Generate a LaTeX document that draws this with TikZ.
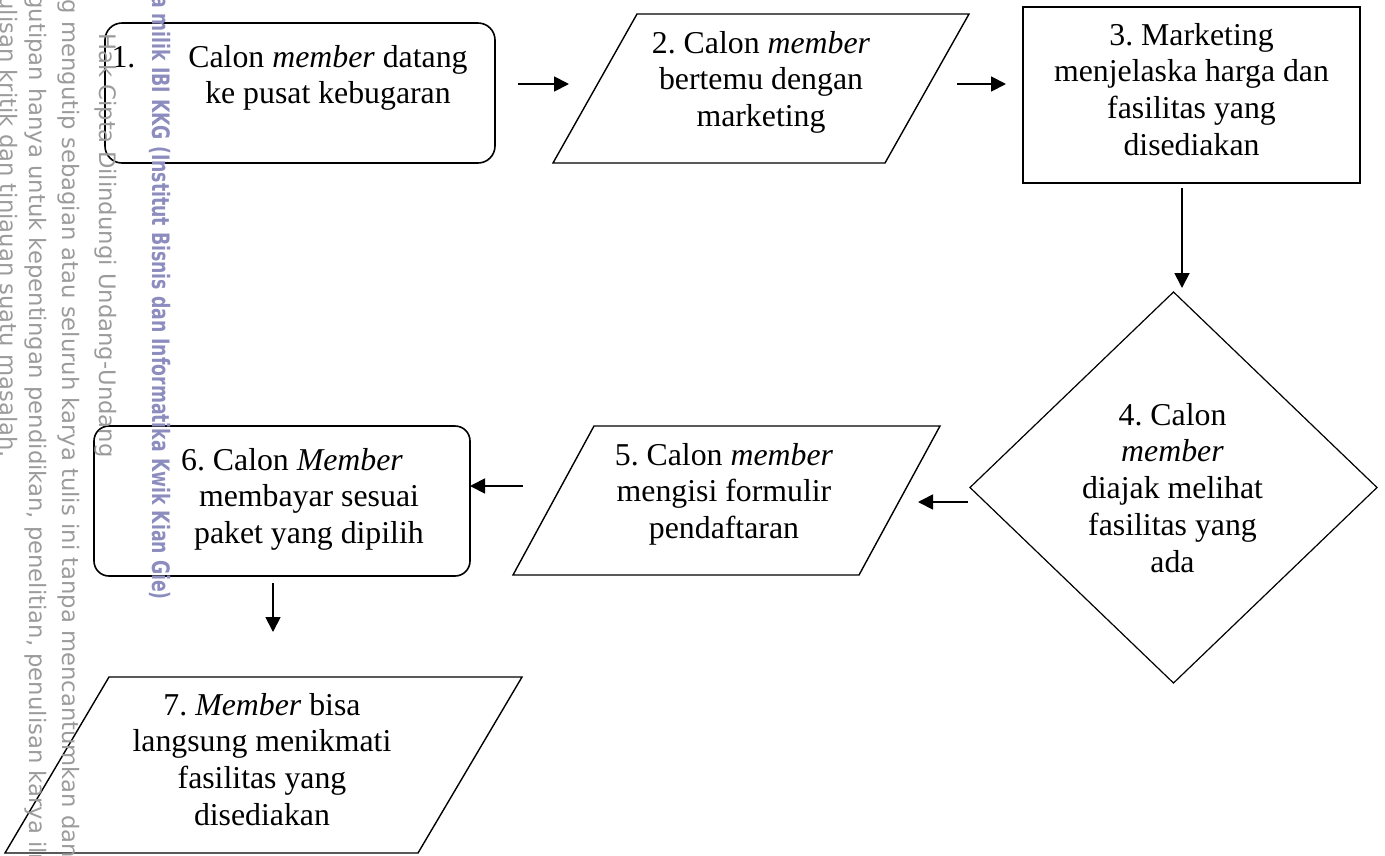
\documentclass[tikz,border=0pt]{standalone}
\usepackage{fontspec}
\setmainfont{Liberation Serif}
\newfontfamily\wmfont{DejaVu Sans}
\usetikzlibrary{shapes.geometric,arrows.meta}
\definecolor{wmgray}{RGB}{155,155,155}
\definecolor{wmblue}{RGB}{140,140,190}
\frenchspacing
\newcommand{\ptext}[3]{\makebox[0pt][l]{\hspace*{#1}\makebox[0pt]{\raisebox{#2}[0pt][0pt]{\begin{tabular}[t]{@{}c@{}}#3\end{tabular}}}}}
\begin{document}
\begin{tikzpicture}[x=1pt,y=-1pt,
  font=\fontsize{31.8}{36.8}\selectfont\frenchspacing,
  roundbox/.style={draw, rounded corners=17pt, line width=1.6pt, inner sep=0pt, outer sep=0pt},
  plainbox/.style={draw, line width=1.8pt, inner sep=0pt, outer sep=0pt},
  parabox/.style={inner sep=0pt, outer sep=0pt},
  paraline/.style={line width=1.4pt, line join=miter},
  decision/.style={draw, diamond, line width=1.2pt, inner sep=0pt, outer sep=0pt},
  arr/.style={-{Triangle[length=15pt,width=15pt]}, line width=1.8pt},
  wm/.style={rotate=-90, inner sep=0pt, text=wmgray, font=\wmfont\fontsize{22.7}{27}\selectfont},
  wmb/.style={rotate=-90, inner sep=0pt, text=wmblue, font=\wmfont\bfseries\fontsize{24}{28}\selectfont}]
\useasboundingbox (0,0) rectangle (1385,855);

\node[roundbox, minimum width=390, minimum height=140] (n1) at (300,93)
  {\ptext{28pt}{26pt}{\llap{1.\hspace{53pt}}Calon \textit{member} datang\\ ke pusat kebugaran}};
\node[parabox, minimum width=416, minimum height=149] (n2) at (761,88.5)
  {\ptext{0pt}{35.5pt}{2. Calon \textit{member}\\ bertemu dengan\\ marketing}};
\draw[paraline] ([xshift=84pt]n2.north west) -- (n2.north east) -- ([xshift=-84pt]n2.south east) -- (n2.south west) -- cycle;
\node[plainbox, minimum width=337, minimum height=176] (n3) at (1191.5,95)
  {\ptext{0pt}{50pt}{3. Marketing\\ menjelaska harga dan\\ fasilitas yang\\ disediakan}};
\node[decision, minimum width=407, minimum height=391] (n4) at (1173.5,487.5)
  {\ptext{-1pt}{62.5pt}{4. Calon\\ \textit{member}\\ diajak melihat\\ fasilitas yang\\ ada}};
\node[parabox, minimum width=427, minimum height=149] (n5) at (726.5,500.5)
  {\ptext{-2.5pt}{35.5pt}{5. Calon \textit{member}\\ mengisi formulir\\ pendaftaran}};
\draw[paraline] ([xshift=81pt]n5.north west) -- (n5.north east) -- ([xshift=-81pt]n5.south east) -- (n5.south west) -- cycle;
\node[roundbox, rounded corners=15pt, minimum width=376, minimum height=150] (n6) at (282,501)
  {\ptext{27pt}{31pt}{6. Calon \textit{Member}\hspace*{34pt}\\ membayar sesuai\\ paket yang dipilih}};
\node[parabox, minimum width=517, minimum height=176] (n7) at (263.5,765)
  {\ptext{-1.5pt}{50pt}{7. \textit{Member} bisa\\ langsung menikmati\\ fasilitas yang\\ disediakan}};
\draw[paraline] ([xshift=104pt]n7.north west) -- (n7.north east) -- ([xshift=-104pt]n7.south east) -- (n7.south west) -- cycle;

\draw[arr] ([shift={(218,-9)}]n1.center) -- ([shift={(-192,-4.5)}]n2.center);
\draw[arr] ([shift={(196,-4.5)}]n2.center) -- ([shift={(-185.5,-11)}]n3.center);
\draw[arr] ([shift={(-9.5,93)}]n3.center) -- ([shift={(8.5,-199.5)}]n4.center);
\draw[arr] ([shift={(-205.5,14.5)}]n4.center) -- ([shift={(191.5,1.5)}]n5.center);
\draw[arr] ([shift={(-203.5,-14.5)}]n5.center) -- ([shift={(188,-15)}]n6.center);
\draw[arr] ([shift={(-9,82)}]n6.center) -- ([shift={(9.5,-133)}]n7.center);

\node[wm, anchor=base east] (w1) at (0,458) {penyusunan laporan, penulisan kritik dan tinjauan suatu masalah.};
\node[wm, anchor=base west] (w2) at (30,88) {\llap{a. Pengutipan }hanya untuk kepentingan pendidikan, penelitian, penulisan karya ilmiah,};
\node[wm, anchor=base west] (w3) at (62,21) {\llap{1. Dilarang }mengutip sebagian atau seluruh karya tulis ini tanpa mencantumkan dan menyebutkan sumber:};
\node[wm, anchor=base west] (w4) at (99,33) {Hak Cipta Dilindungi Undang-Undang};
\node[wmb, anchor=base east] (w5) at (152,600) {\scalebox{0.72}[1]{Hak cipta milik IBI KKG (Institut Bisnis dan Informatika Kwik Kian Gie)}};
\end{tikzpicture}
\end{document}
